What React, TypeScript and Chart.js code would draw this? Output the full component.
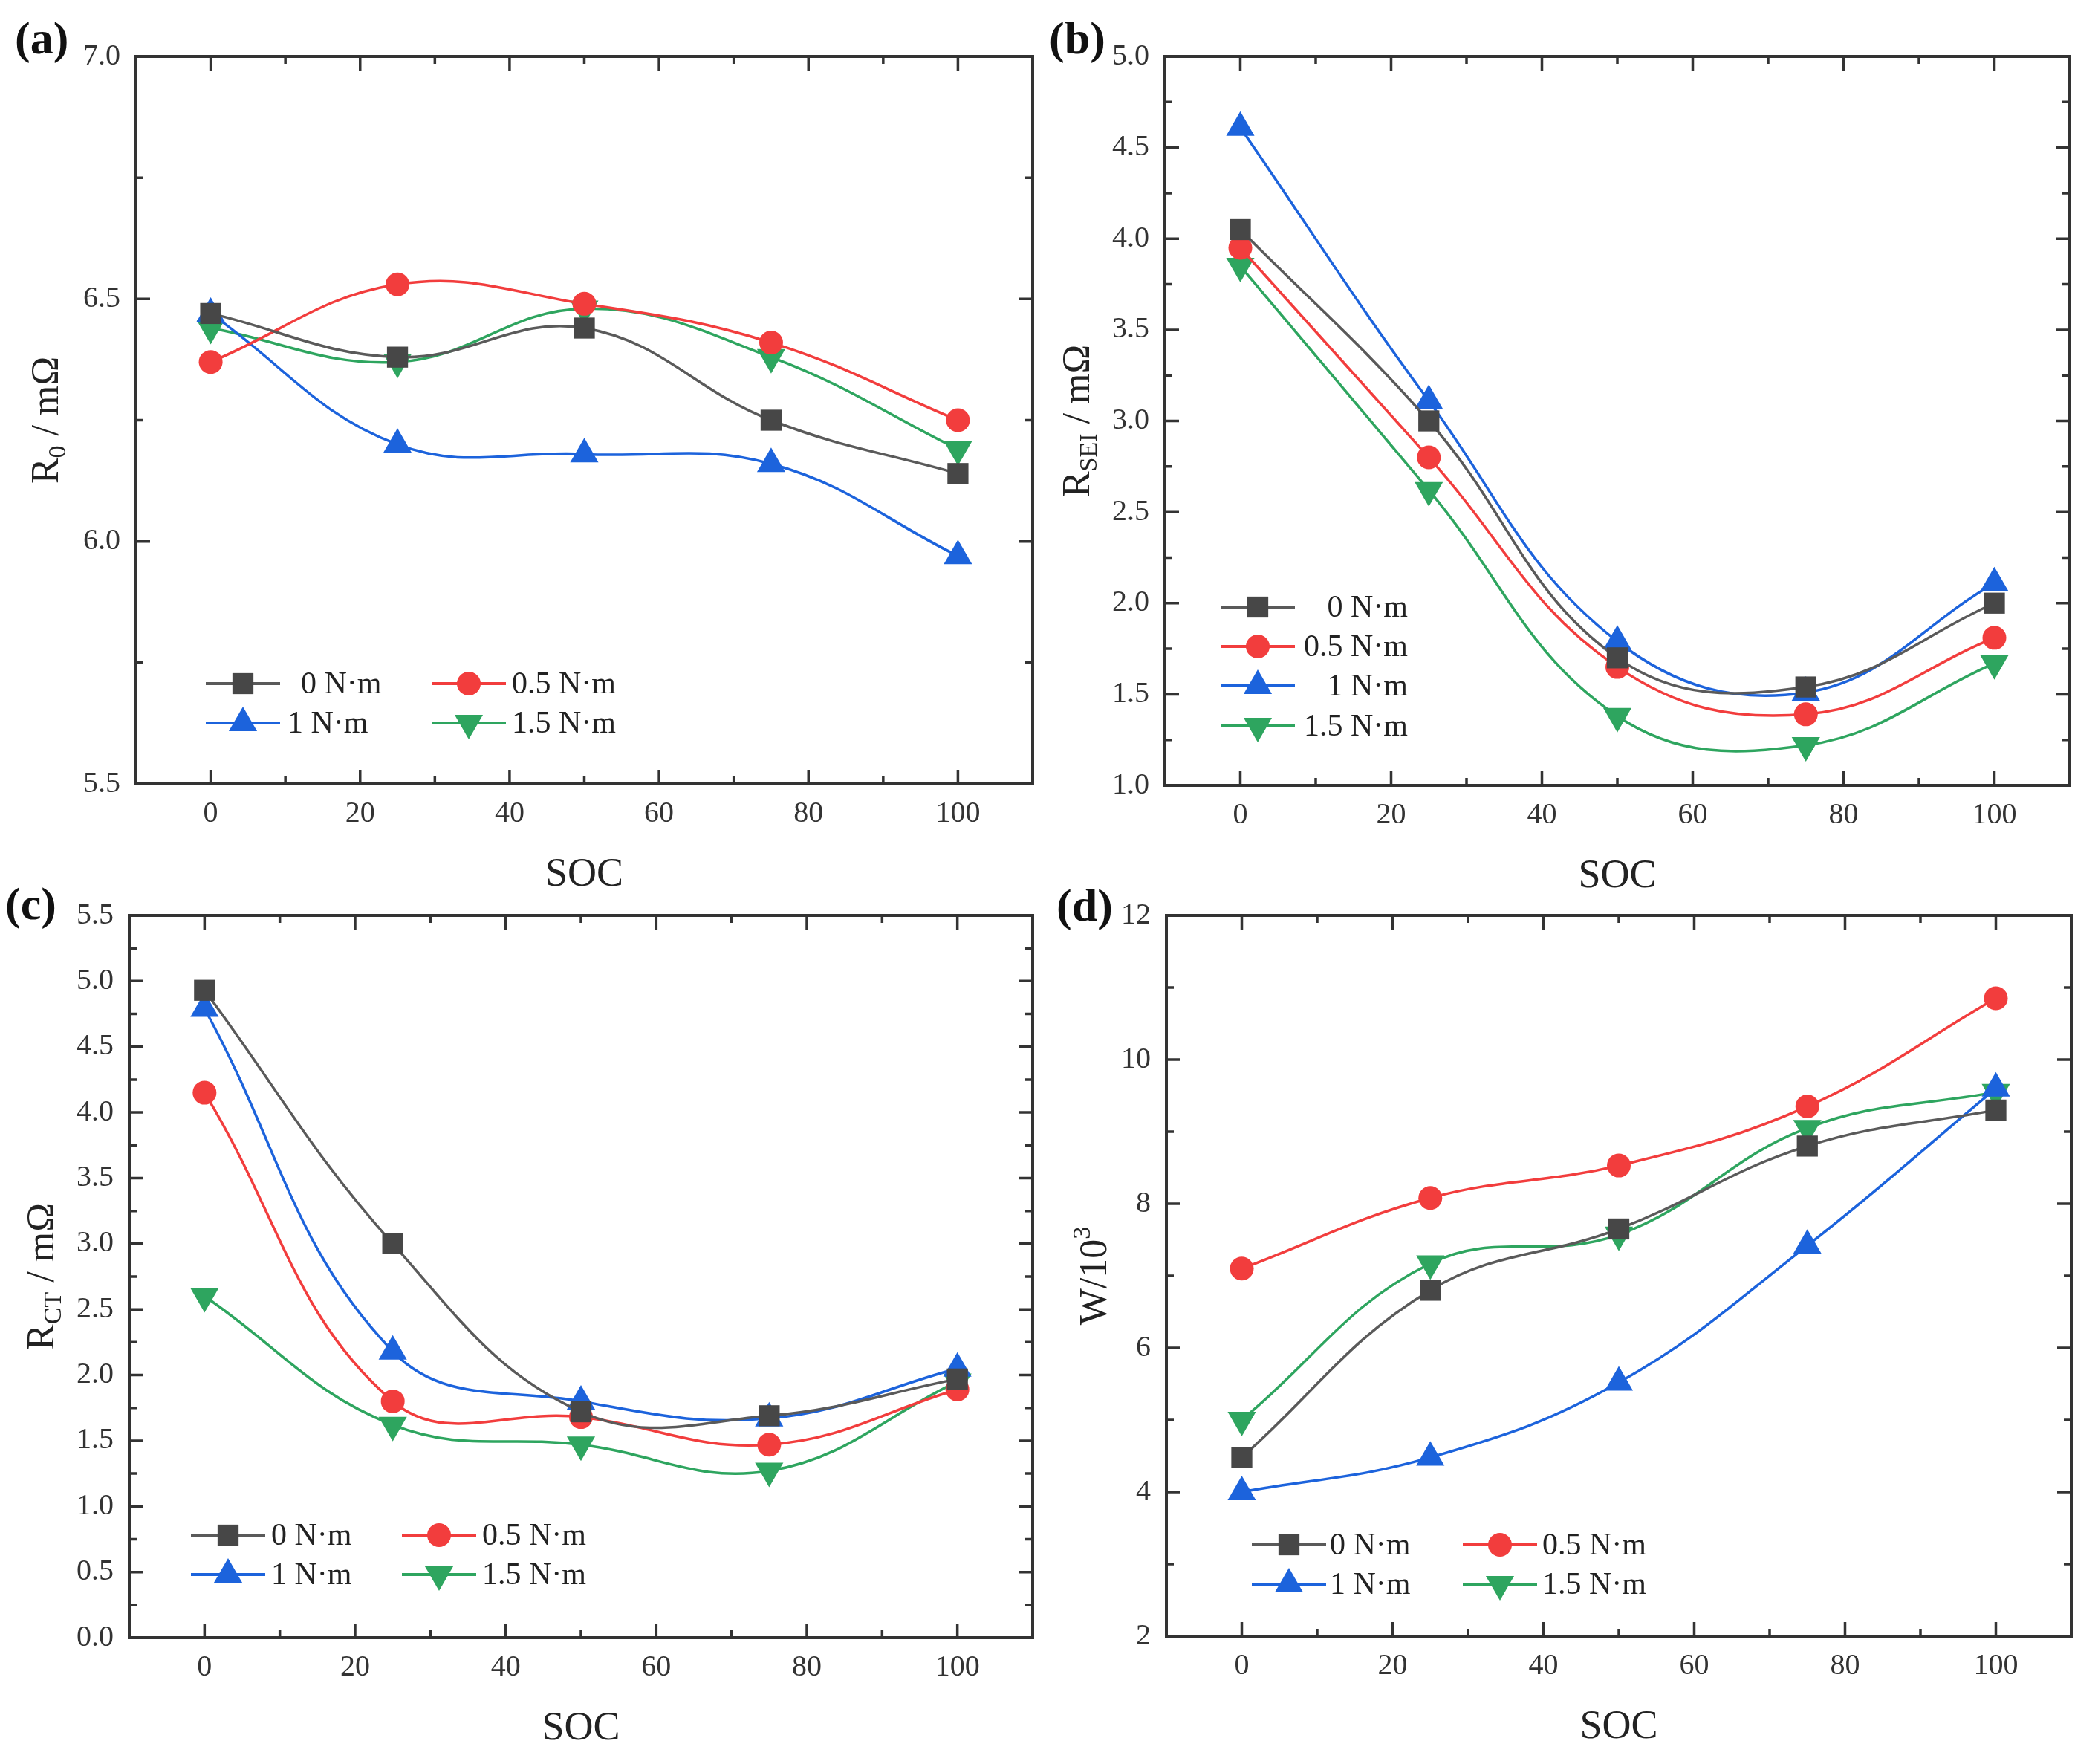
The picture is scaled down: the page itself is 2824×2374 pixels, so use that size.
import { useEffect, useRef } from "react";
import { Chart, registerables } from "chart.js";
import { drawPoint } from "chart.js/helpers";

Chart.register(...registerables);

// SOC positions shared by all four panels
const soc = [0, 25, 50, 75, 100];
const torqueLabels = ["0 N·m", "0.5 N·m", "1 N·m", "1.5 N·m"];

// (a) R0 / mOhm
const r0Torque0 = [6.47, 6.38, 6.44, 6.25, 6.14];
const r0Torque05 = [6.37, 6.53, 6.49, 6.41, 6.25];
const r0Torque1 = [6.47, 6.2, 6.18, 6.16, 5.97];
const r0Torque15 = [6.44, 6.37, 6.48, 6.38, 6.19];

// (b) RSEI / mOhm
const rseiTorque0 = [4.05, 3.0, 1.7, 1.54, 2.0];
const rseiTorque05 = [3.95, 2.8, 1.65, 1.39, 1.81];
const rseiTorque1 = [4.61, 3.11, 1.79, 1.51, 2.11];
const rseiTorque15 = [3.85, 2.62, 1.38, 1.22, 1.67];

// (c) RCT / mOhm
const rctTorque0 = [4.93, 3.0, 1.72, 1.69, 1.97];
const rctTorque05 = [4.15, 1.8, 1.68, 1.47, 1.89];
const rctTorque1 = [4.79, 2.18, 1.8, 1.67, 2.05];
const rctTorque15 = [2.6, 1.62, 1.47, 1.27, 1.95];

// (d) W / 10^3
const wTorque0 = [4.48, 6.8, 7.65, 8.8, 9.3];
const wTorque05 = [7.1, 8.08, 8.53, 9.35, 10.85];
const wTorque1 = [4.0, 4.48, 5.52, 7.42, 9.6];
const wTorque15 = [5.0, 7.17, 7.57, 9.05, 9.55];

// tick labels
const xTicks = [0, 20, 40, 60, 80, 100];
const r0Ticks = [5.5, 6.0, 6.5, 7.0];
const rseiTicks = [1.0, 1.5, 2.0, 2.5, 3.0, 3.5, 4.0, 4.5, 5.0];
const rctTicks = [0.0, 0.5, 1.0, 1.5, 2.0, 2.5, 3.0, 3.5, 4.0, 4.5, 5.0, 5.5];
const wTicks = [2, 4, 6, 8, 10, 12];

const SERIF = '"Liberation Serif", "Times New Roman", serif';
const AXIS = "#333333";

const seriesStyle = [
  { line: "#5a5a5a", marker: "#474747", pointStyle: "rect", radius: 20, rotation: 0 },
  { line: "#f23d3d", marker: "#f23d3d", pointStyle: "circle", radius: 16, rotation: 0 },
  { line: "#1c63dc", marker: "#1c63dc", pointStyle: "triangle", radius: 22, rotation: 0 },
  { line: "#2ea55f", marker: "#2ea55f", pointStyle: "triangle", radius: 22, rotation: 180 },
];

type TitlePart = { text: string; mode: "normal" | "sub" | "sup" };
type LegendItem = { lineX: number; y: number; textX: number; align: CanvasTextAlign };

interface Panel {
  left: number;
  top: number;
  height: number;
  yAxisW: number;
  xAxisH: number;
  padTop: number;
  padRight: number;
  yTicks: number[];
  decimals: number;
  series: number[][];
  title: TitlePart[];
  titleX: number;
  label: string;
  labelX: number;
  labelY: number;
  legend: LegendItem[];
}

const panels: Panel[] = [
  {
    left: 0, top: 0, height: 1230, yAxisW: 183, xAxisH: 175, padTop: 76, padRight: 18,
    yTicks: r0Ticks, decimals: 1,
    series: [r0Torque0, r0Torque05, r0Torque1, r0Torque15],
    title: [{ text: "R", mode: "normal" }, { text: "0", mode: "sub" }, { text: " / mΩ", mode: "normal" }],
    titleX: 78, label: "(a)", labelX: 20, labelY: 72,
    legend: [
      { lineX: 277, y: 920, textX: 405, align: "left" },
      { lineX: 581, y: 920, textX: 689, align: "left" },
      { lineX: 277, y: 973, textX: 387, align: "left" },
      { lineX: 581, y: 973, textX: 689, align: "left" },
    ],
  },
  {
    left: 1412, top: 0, height: 1230, yAxisW: 156, xAxisH: 173, padTop: 76, padRight: 38,
    yTicks: rseiTicks, decimals: 1,
    series: [rseiTorque0, rseiTorque05, rseiTorque1, rseiTorque15],
    title: [{ text: "R", mode: "normal" }, { text: "SEI", mode: "sub" }, { text: " / mΩ", mode: "normal" }],
    titleX: 54, label: "(b)", labelX: 0, labelY: 72,
    legend: [
      { lineX: 231, y: 817, textX: 483, align: "right" },
      { lineX: 231, y: 870, textX: 483, align: "right" },
      { lineX: 231, y: 923, textX: 483, align: "right" },
      { lineX: 231, y: 977, textX: 483, align: "right" },
    ],
  },
  {
    left: 0, top: 1187, height: 1187, yAxisW: 174, xAxisH: 170, padTop: 36, padRight: 20,
    yTicks: rctTicks, decimals: 1,
    series: [rctTorque0, rctTorque05, rctTorque1, rctTorque15],
    title: [{ text: "R", mode: "normal" }, { text: "CT", mode: "sub" }, { text: " / mΩ", mode: "normal" }],
    titleX: 72, label: "(c)", labelX: 7, labelY: 50,
    legend: [
      { lineX: 257, y: 879, textX: 365, align: "left" },
      { lineX: 541, y: 879, textX: 649, align: "left" },
      { lineX: 257, y: 932, textX: 365, align: "left" },
      { lineX: 541, y: 932, textX: 649, align: "left" },
    ],
  },
  {
    left: 1412, top: 1187, height: 1187, yAxisW: 158, xAxisH: 172, padTop: 38, padRight: 36,
    yTicks: wTicks, decimals: 0,
    series: [wTorque0, wTorque05, wTorque1, wTorque15],
    title: [{ text: "W/10", mode: "normal" }, { text: "3", mode: "sup" }],
    titleX: 77, label: "(d)", labelX: 10, labelY: 52,
    legend: [
      { lineX: 273, y: 892, textX: 378, align: "left" },
      { lineX: 557, y: 892, textX: 664, align: "left" },
      { lineX: 273, y: 945, textX: 378, align: "left" },
      { lineX: 557, y: 945, textX: 664, align: "left" },
    ],
  },
];

function midpoints(values: number[]) {
  const out: number[] = [];
  for (let i = 1; i < values.length; i++) out.push((values[i - 1] + values[i]) / 2);
  return out;
}

function makeDecor(panel: Panel) {
  return {
    id: "panelDecor",
    afterDraw(chart: any) {
      const ctx: CanvasRenderingContext2D = chart.ctx;
      const { left, right, top, bottom } = chart.chartArea;
      const xs = chart.scales.x;
      const ys = chart.scales.y;
      ctx.save();

      // frame
      ctx.strokeStyle = AXIS;
      ctx.lineWidth = 4;
      ctx.strokeRect(left, top, right - left, bottom - top);

      // inward ticks on all four sides
      ctx.lineWidth = 3.5;
      ctx.beginPath();
      const xTick = (v: number, len: number) => {
        const p = xs.getPixelForValue(v);
        ctx.moveTo(p, bottom);
        ctx.lineTo(p, bottom - len);
        ctx.moveTo(p, top);
        ctx.lineTo(p, top + len);
      };
      const yTick = (v: number, len: number) => {
        const p = ys.getPixelForValue(v);
        ctx.moveTo(left, p);
        ctx.lineTo(left + len, p);
        ctx.moveTo(right, p);
        ctx.lineTo(right - len, p);
      };
      xTicks.forEach((v) => xTick(v, 19));
      midpoints(xTicks).forEach((v) => xTick(v, 10));
      panel.yTicks.forEach((v) => yTick(v, 19));
      midpoints(panel.yTicks).forEach((v) => yTick(v, 10));
      ctx.stroke();

      // x title
      ctx.fillStyle = "#222";
      ctx.font = `54px ${SERIF}`;
      ctx.textAlign = "center";
      ctx.textBaseline = "alphabetic";
      ctx.fillText("SOC", (left + right) / 2, bottom + 137);

      // y title with sub/superscripts
      const fontFor = (m: string) => (m === "normal" ? `52px ${SERIF}` : `34px ${SERIF}`);
      let total = 0;
      for (const part of panel.title) {
        ctx.font = fontFor(part.mode);
        total += ctx.measureText(part.text).width;
      }
      ctx.save();
      ctx.translate(panel.titleX, (top + bottom) / 2);
      ctx.rotate(-Math.PI / 2);
      ctx.textAlign = "left";
      let cx = -total / 2;
      for (const part of panel.title) {
        ctx.font = fontFor(part.mode);
        const dy = part.mode === "sub" ? 10 : part.mode === "sup" ? -22 : 0;
        ctx.fillText(part.text, cx, dy);
        cx += ctx.measureText(part.text).width;
      }
      ctx.restore();

      // panel label
      ctx.font = `bold 62px ${SERIF}`;
      ctx.textAlign = "left";
      ctx.fillStyle = "#111";
      ctx.fillText(panel.label, panel.labelX, panel.labelY);

      // legend
      panel.legend.forEach((item, i) => {
        const st = seriesStyle[i];
        ctx.strokeStyle = st.line;
        ctx.lineWidth = 4;
        ctx.beginPath();
        ctx.moveTo(item.lineX, item.y);
        ctx.lineTo(item.lineX + 100, item.y);
        ctx.stroke();
        ctx.fillStyle = st.marker;
        drawPoint(ctx, { pointStyle: st.pointStyle as any, radius: st.radius, rotation: st.rotation, borderWidth: 0 }, item.lineX + 50, item.y);
        ctx.fillStyle = "#222";
        ctx.font = `42px ${SERIF}`;
        ctx.textAlign = item.align;
        ctx.textBaseline = "middle";
        ctx.fillText(torqueLabels[i], item.textX, item.y + 2);
      });

      ctx.restore();
    },
  };
}

function PanelChart({ panel }: { panel: Panel }) {
  const ref = useRef<HTMLCanvasElement>(null);
  useEffect(() => {
    if (!ref.current) return;
    const tickFont = { family: SERIF, size: 40 };
    const chart = new Chart(ref.current, {
      type: "line",
      data: {
        datasets: panel.series.map((vals, i) => ({
          label: torqueLabels[i],
          data: soc.map((x, j) => ({ x, y: vals[j] })),
          borderColor: seriesStyle[i].line,
          backgroundColor: seriesStyle[i].marker,
          borderWidth: 3.5,
          pointStyle: seriesStyle[i].pointStyle as any,
          pointRadius: seriesStyle[i].radius,
          pointRotation: seriesStyle[i].rotation,
          pointBorderWidth: 0,
          tension: 0.4,
        })),
      },
      options: {
        animation: false,
        responsive: true,
        maintainAspectRatio: false,
        layout: { padding: { top: panel.padTop, right: panel.padRight, left: 0, bottom: 0 } },
        plugins: { legend: { display: false }, tooltip: { enabled: false } },
        scales: {
          x: {
            type: "linear",
            min: -10,
            max: 110,
            grid: { display: false, drawTicks: false },
            border: { display: false },
            ticks: { font: tickFont, color: AXIS, padding: 16, maxRotation: 0, autoSkip: false },
            afterBuildTicks: (s: any) => {
              s.ticks = xTicks.map((value) => ({ value }));
            },
            afterFit: (s: any) => {
              s.height = panel.xAxisH;
            },
          },
          y: {
            type: "linear",
            min: panel.yTicks[0],
            max: panel.yTicks[panel.yTicks.length - 1],
            grid: { display: false, drawTicks: false },
            border: { display: false },
            ticks: {
              font: tickFont,
              color: AXIS,
              padding: 21,
              autoSkip: false,
              callback: (v: any) => Number(v).toFixed(panel.decimals),
            },
            afterBuildTicks: (s: any) => {
              s.ticks = panel.yTicks.map((value) => ({ value }));
            },
            afterFit: (s: any) => {
              s.width = panel.yAxisW;
            },
          },
        },
      },
      plugins: [makeDecor(panel)],
    });
    return () => chart.destroy();
  }, [panel]);

  return (
    <div style={{ position: "absolute", left: panel.left, top: panel.top, width: 1412, height: panel.height }}>
      <canvas ref={ref} />
    </div>
  );
}

export default function App() {
  return (
    <div style={{ position: "absolute", left: 0, top: 0, width: 2824, height: 2374, background: "#fff" }}>
      {panels.map((p) => (
        <PanelChart key={p.label} panel={p} />
      ))}
    </div>
  );
}
